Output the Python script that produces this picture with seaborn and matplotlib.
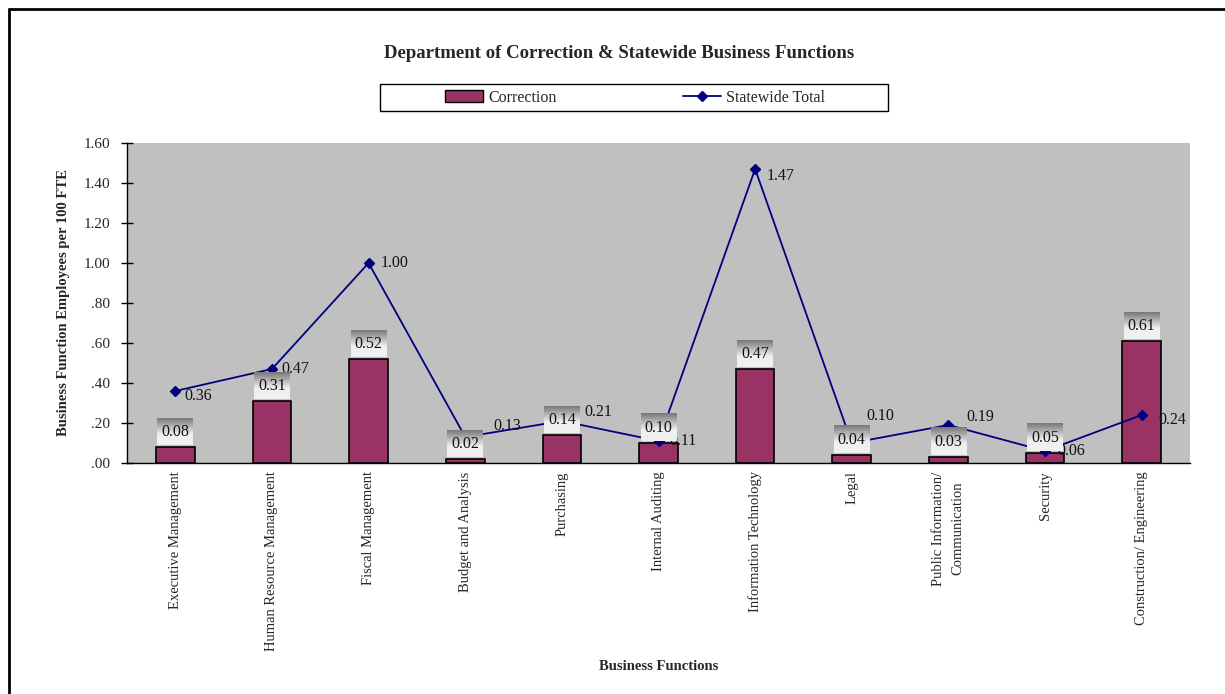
import numpy as np
import pandas as pd
import matplotlib
matplotlib.use("Agg")
import matplotlib.pyplot as plt
import seaborn as sns
from matplotlib.lines import Line2D
from matplotlib.patches import Patch, Rectangle

categories = ["Executive Management", "Human Resource Management", "Fiscal Management",
              "Budget and Analysis", "Purchasing", "Internal Auditing",
              "Information Technology", "Legal", "Public Information/\nCommunication",
              "Security", "Construction/ Engineering"]
correction = [0.08, 0.31, 0.52, 0.02, 0.14, 0.10, 0.47, 0.04, 0.03, 0.05, 0.61]
statewide = [0.36, 0.47, 1.00, 0.13, 0.21, 0.11, 1.47, 0.10, 0.19, 0.06, 0.24]
y_ticks = [0.0, 0.2, 0.4, 0.6, 0.8, 1.0, 1.2, 1.4, 1.6]
y_tick_labels = [".00", ".20", ".40", ".60", ".80", "1.00", "1.20", "1.40", "1.60"]
# label offsets (pixels) for statewide labels
line_label_offsets = [(9, -5), (9, 0), (12, 0), (28, 11), (23, 9), (11, 0),
                      (12, -7), (15, 27), (18, 8), (12, 0), (17, -5)]

sns.set_theme(style="white")
plt.rcParams['font.family'] = ['Liberation Serif', 'DejaVu Serif']

df = pd.DataFrame({"cat": categories, "Correction": correction, "Statewide": statewide})

fig = plt.figure(figsize=(12.25, 6.94), dpi=100)
ax = fig.add_axes([127/1225, 1-463/694, (1190-127)/1225, (463-143)/694])
ax.set_facecolor("#C0C0C0")

bar_color = "#993366"
sns.barplot(data=df, x="cat", y="Correction", color=bar_color, width=0.4,
            edgecolor="black", linewidth=1.2, saturation=1, ax=ax, zorder=2)

x = np.arange(len(categories))
ax.plot(x, statewide, color="#000080", lw=1.3, marker="D", ms=5.5, zorder=4)

# gradient boxes with bar values
t = np.linspace(0, 1, 64)
grad = np.clip(0.47 + (0.94 - 0.47) * t / 0.6, 0, 0.94).reshape(-1, 1)
for i, v in enumerate(correction):
    y0 = v + 0.01
    y1 = v + 0.145
    ax.imshow(grad, cmap="gray", vmin=0, vmax=1, aspect="auto",
              extent=(i - 0.185, i + 0.185, y0, y1), origin="upper", zorder=5)
    ax.text(i, (y0 + y1) / 2, f"{v:.2f}", ha="center", va="center",
            fontsize=11.5, color="#111111", zorder=6)

for i, v in enumerate(statewide):
    dx, dy = line_label_offsets[i]
    ax.annotate(f"{v:.2f}", (i, v), xytext=(dx, dy), textcoords="offset pixels",
                ha="left", va="center", fontsize=11.5, color="#111111", zorder=4.5)

ax.set_xlim(-0.5, len(categories) - 0.5)
ax.set_ylim(0, 1.6)
ax.set_yticks(y_ticks)
ax.set_yticklabels(y_tick_labels, fontsize=11)
ax.set_xticks(x)
ax.set_xticklabels(categories, rotation=90, fontsize=10.5, va="top", ha="center",
                   linespacing=1.6)
ax.tick_params(axis="x", length=0, pad=6)
ax.set_xticks(np.arange(len(categories) + 1) - 0.5, minor=True)
ax.tick_params(axis="x", which="minor", direction="inout", length=8, width=1, color="black")
ax.tick_params(axis="y", direction="inout", length=8, width=1, color="black", pad=8, left=True)
for s in ["top", "right"]:
    ax.spines[s].set_visible(False)
ax.spines["left"].set_color("black")
ax.spines["bottom"].set_color("black")
ax.spines["left"].set_linewidth(1)
ax.spines["bottom"].set_linewidth(1)
ax.set_ylabel("Business Function Employees per 100 FTE", fontsize=10.5,
              fontweight="bold", labelpad=10)
ax.set_xlabel("")
fig.text((127 + 1190) / 2 / 1225, 1 - 667 / 694, "Business Functions",
         ha="center", va="center", fontsize=10.5, fontweight="bold")
fig.text(619 / 1225, 1 - 53 / 694, "Department of Correction & Statewide Business Functions",
         ha="center", va="center", fontsize=13.5, fontweight="bold")

handles = [Patch(facecolor=bar_color, edgecolor="black", label="Correction"),
           Line2D([0], [0], color="#000080", marker="D", ms=5.5, lw=1.3, label="Statewide Total")]
leg = fig.legend(handles=handles, ncol=2, loc="center",
                 bbox_to_anchor=(635 / 1225, 1 - 97.5 / 694), frameon=False,
                 fontsize=11.5, columnspacing=7.9, handlelength=2.4, handletextpad=0.3,
                 borderpad=0.35)
fig.add_artist(Rectangle((380 / 1225, 1 - 111 / 694), 508 / 1225, 27 / 694,
                         transform=fig.transFigure, facecolor="none",
                         edgecolor="black", lw=1))

# outer frame (top and left)
fig.add_artist(Line2D([9 / 1225, 9 / 1225], [0, 1 - 9 / 694], color="black", lw=2,
                      transform=fig.transFigure))
fig.add_artist(Line2D([9 / 1225, 1], [1 - 9 / 694, 1 - 9 / 694], color="black", lw=2,
                      transform=fig.transFigure))

fig.savefig("out.png", dpi=100, facecolor="white")
